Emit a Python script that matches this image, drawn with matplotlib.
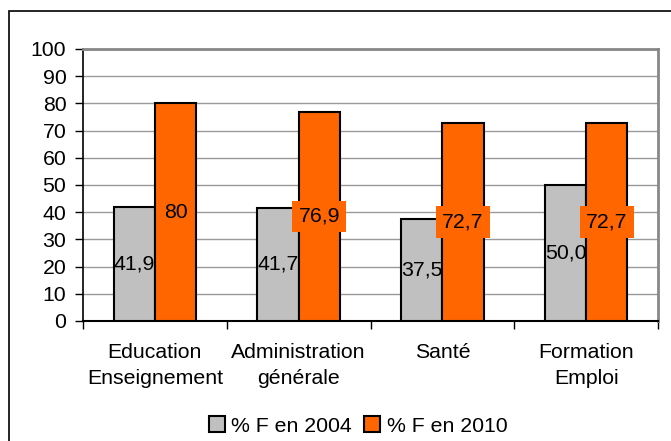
import matplotlib
matplotlib.use("Agg")
import matplotlib.pyplot as plt
from matplotlib.patches import Rectangle
import numpy as np

# data
categories = ["Education\nEnseignement", "Administration\ngénérale", "Santé", "Formation\nEmploi"]
f_2004 = [41.9, 41.7, 37.5, 50.0]
f_2010 = [80, 76.9, 72.7, 72.7]
labels_2004 = ["41,9", "41,7", "37,5", "50,0"]
labels_2010 = ["80", "76,9", "72,7", "72,7"]

plt.rcParams['font.family'] = ['Liberation Sans', 'DejaVu Sans']
plt.rcParams['font.size'] = 15.3

fig = plt.figure(figsize=(6.71, 4.41), dpi=100)
ax = fig.add_axes([83/671, 1-321/441, 575/671, 272/441])

# outer frame of the chart (cut off at right and bottom)
fig.patches.append(Rectangle((9/671, -0.1), 1.2, 1.1 - 11/441, transform=fig.transFigure,
                             fill=False, edgecolor='black', linewidth=1.2))

x = np.arange(len(categories))
w = 0.287
ax.bar(x - w/2, f_2004, w, color='#C0C0C0', edgecolor='black', linewidth=1.5, zorder=3, label="% F en 2004")
ax.bar(x + w/2, f_2010, w, color='#FF6600', edgecolor='black', linewidth=1.5, zorder=3, label="% F en 2010")

for i in range(len(categories)):
    ax.text(x[i] - w/2, f_2004[i]/2, labels_2004[i], ha='center', va='center', zorder=4)
    ax.text(x[i] + w/2, f_2010[i]/2, labels_2010[i], ha='center', va='center', zorder=4,
            bbox=dict(boxstyle='square,pad=0.3', facecolor='#FF6600', edgecolor='none'))

ax.set_xlim(-0.5, len(categories) - 0.5)
ax.set_ylim(0, 100)
ax.set_yticks(range(0, 101, 10))
ax.yaxis.grid(True, color='#999999', linewidth=1, zorder=0)
ax.set_axisbelow(True)

ax.set_xticks(np.arange(-0.5, len(categories), 1))
ax.set_xticklabels([])
ax.set_xticks(x, minor=True)
ax.set_xticklabels(categories, minor=True, linespacing=1.45)
ax.tick_params(axis='x', which='major', length=6, width=1, direction='out')
ax.tick_params(axis='x', which='minor', length=0, pad=16)
ax.tick_params(axis='y', length=6, width=1, direction='out', pad=6)

for s in ['top', 'right']:
    ax.spines[s].set_color('#888888')
    ax.spines[s].set_linewidth(2)
ax.spines['left'].set_linewidth(1.2)
ax.spines['bottom'].set_linewidth(1.5)

ax.legend(loc='center', bbox_to_anchor=(358/671, 1-426/441), bbox_transform=fig.transFigure,
          ncol=2, frameon=False, handlelength=0.75, handleheight=0.75, handletextpad=0.3,
          columnspacing=0.6, borderaxespad=0)

fig.savefig("out.png", dpi=100)
